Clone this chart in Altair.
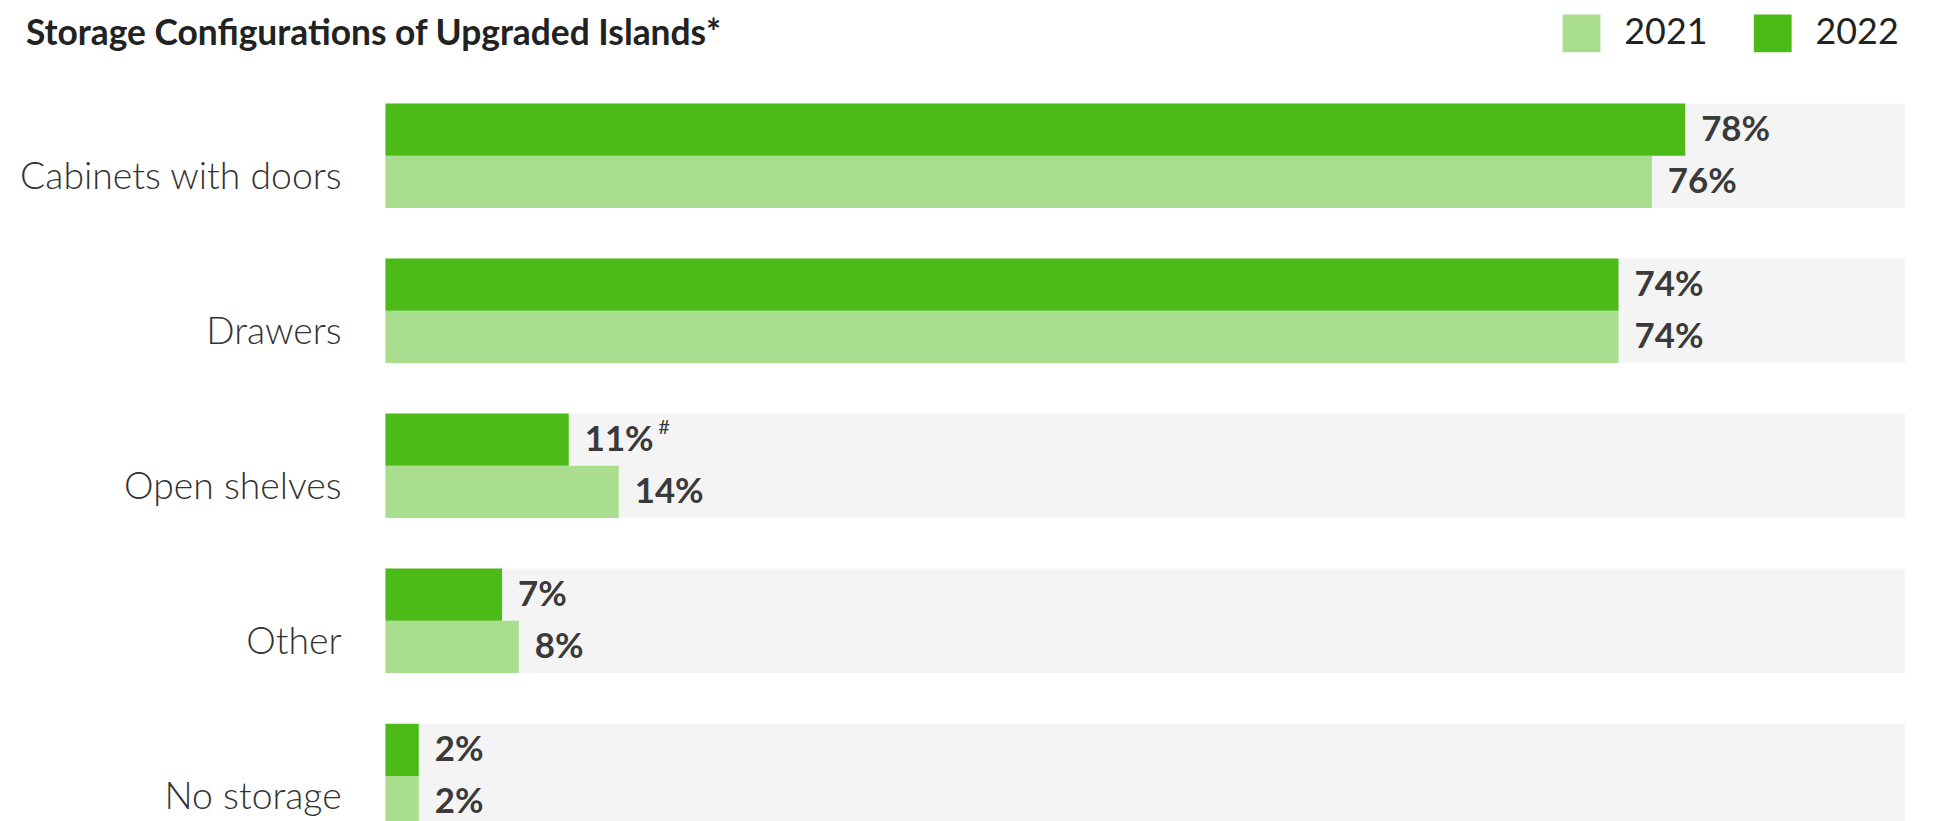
import altair as alt
import pandas as pd

categories = ["Cabinets with doors", "Drawers", "Open shelves", "Other", "No storage"]
years = ["2021", "2022"]
values_2021 = [76, 74, 14, 8, 2]
values_2022 = [78, 74, 11, 7, 2]
notes_2022 = ["", "", "#", "", ""]

rows = []
for i, c in enumerate(categories):
    rows.append({"category": c, "year": "2021", "value": values_2021[i],
                 "label": f"{values_2021[i]}%", "note": ""})
    rows.append({"category": c, "year": "2022", "value": values_2022[i],
                 "label": f"{values_2022[i]}%", "note": notes_2022[i]})
df = pd.DataFrame(rows)
cat_df = pd.DataFrame({"category": categories})

W = 1526
H = 778.5
XMAX = 91.2
FONT = "Lato"

y = alt.Y("category:N", sort=categories, axis=None,
          scale=alt.Scale(domain=categories, paddingInner=0.326, paddingOuter=0.163))
yoff = alt.YOffset("year:N", sort=["2022", "2021"],
                   scale=alt.Scale(domain=["2022", "2021"], paddingInner=0, paddingOuter=0))
x = alt.X("value:Q", axis=None, scale=alt.Scale(domain=[0, XMAX], nice=False, zero=True))

bg = alt.Chart(cat_df).mark_bar(color="#F4F4F4").encode(
    y=y, x=alt.value(0), x2=alt.value(W)
)

bars = alt.Chart(df).mark_bar().encode(
    y=y, yOffset=yoff, x=x,
    color=alt.Color("year:N",
                    scale=alt.Scale(domain=years, range=["#A8DE8E", "#4CBB17"]),
                    legend=alt.Legend(title=None, orient="none", legendX=1182, legendY=-64,
                                      direction="horizontal", symbolType="square",
                                      symbolSize=1444, symbolStrokeWidth=0,
                                      labelFontSize=36, labelFont=FONT, labelColor="#222222",
                                      labelOffset=24, columnPadding=46, padding=0,
                                      symbolOpacity=1)),
)

vals = alt.Chart(df).mark_text(align="left", baseline="middle", dx=16, font=FONT,
                               fontWeight="bold", fontSize=35, color="#3a3a3a").encode(
    y=y, yOffset=yoff, x=x, text="label:N"
)

notes = alt.Chart(df).transform_filter("datum.note != ''").mark_text(
    align="left", baseline="middle", dx=90, dy=-12, font=FONT, fontSize=20, color="#3a3a3a"
).encode(y=y, yOffset=yoff, x=x, text="note:N")

cats = alt.Chart(cat_df).mark_text(align="right", baseline="middle", dy=22, font=FONT,
                                   fontWeight=300, fontSize=37.5, color="#333333").encode(
    y=y, x=alt.value(-44), text="category:N"
)

chart = alt.layer(bg, bars, vals, notes, cats).properties(
    width=W, height=H,
    title=alt.Title("Storage Configurations of Upgraded Islands*", anchor="start",
                    frame="group", dx=-361, offset=-38, fontSize=35.5, font=FONT,
                    fontWeight="bold", color="#222222"),
    autosize=alt.AutoSizeParams(type="none"),
    padding={"left": 379, "top": 68.7, "right": 40, "bottom": 0},
).configure_view(stroke=None)

chart.save("out.html", embed_options={"renderer": "svg", "actions": False})
